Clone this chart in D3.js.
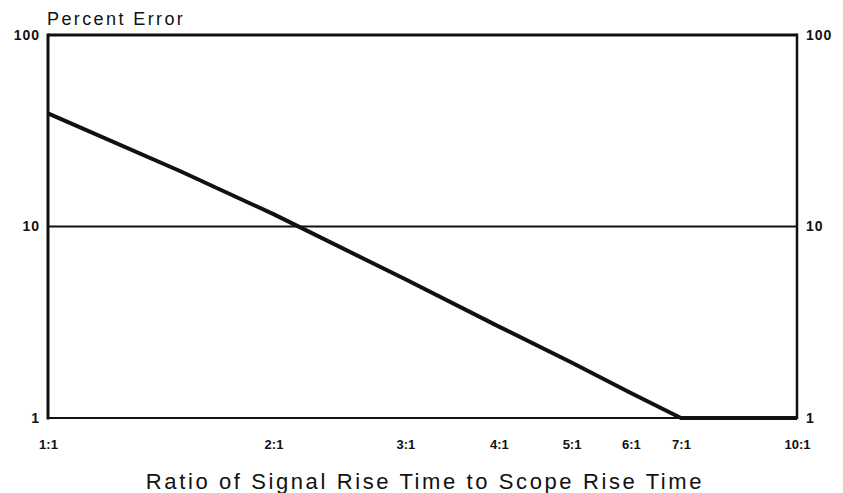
<!DOCTYPE html>
<html>
<head>
<meta charset="utf-8">
<script src="https://cdn.jsdelivr.net/npm/d3@7"></script>
<style>
  html, body { margin: 0; padding: 0; background: #fff; }
  svg { display: block; font-family: "Liberation Sans", Arial, sans-serif; }
</style>
</head>
<body>
<svg id="chart" width="843" height="493"></svg>
<script>
// Data
const ratios = [1, 1.5, 2, 3, 4, 5, 6, 7, 10];
const percentError = [39, 19.5, 11.6, 5.3, 3.0, 1.95, 1.35, 1.0, 1.0];
const xTickValues = [1, 2, 3, 4, 5, 6, 7, 10];
const xTickLabels = ["1:1", "2:1", "3:1", "4:1", "5:1", "6:1", "7:1", "10:1"];
const yTickValues = [1, 10, 100];
const yTickLabels = ["1", "10", "100"];

(function () {
const svg = d3.select("#chart");
const pLeft = 48, pRight = 797, pTop = 35, pBottom = 418;

const x = d3.scaleLog().domain([1, 10]).range([pLeft, pRight]);
const y = d3.scaleLog().domain([1, 100]).range([pBottom, pTop]);

// Frame
const g = svg.append("g");
g.append("line").attr("x1", pLeft).attr("x2", pRight).attr("y1", y(100)).attr("y2", y(100))
  .attr("stroke", "#111").attr("stroke-width", 3);
g.append("line").attr("x1", pLeft).attr("x2", pLeft).attr("y1", y(100) - 1.5).attr("y2", y(1) + 1.5)
  .attr("stroke", "#111").attr("stroke-width", 3);
g.append("line").attr("x1", pRight).attr("x2", pRight).attr("y1", y(100) - 1.5).attr("y2", y(1) + 1)
  .attr("stroke", "#111").attr("stroke-width", 2.5);
g.append("line").attr("x1", pLeft).attr("x2", pRight).attr("y1", y(1)).attr("y2", y(1))
  .attr("stroke", "#111").attr("stroke-width", 2);
// 10% line
g.append("line").attr("x1", pLeft).attr("x2", pRight).attr("y1", y(10)).attr("y2", y(10))
  .attr("stroke", "#111").attr("stroke-width", 2);

// Y axis labels (left and right) via axes
const yAxisL = d3.axisLeft(y).tickValues(yTickValues)
  .tickFormat((d, i) => yTickLabels[i]).tickSize(0).tickPadding(8);
const yAxisR = d3.axisRight(y).tickValues(yTickValues)
  .tickFormat((d, i) => yTickLabels[i]).tickSize(0).tickPadding(9);
const gl = svg.append("g").attr("transform", `translate(${pLeft},0)`).call(yAxisL);
const gr = svg.append("g").attr("transform", `translate(${pRight},0)`).call(yAxisR);
[gl, gr].forEach(a => {
  a.select(".domain").remove();
  a.selectAll("text").attr("font-size", 14).attr("font-weight", "bold")
    .attr("letter-spacing", 1)
    .attr("fill", "#111").attr("font-family", "Liberation Sans, Arial, sans-serif");
});

// X axis labels
const xAxis = d3.axisBottom(x).tickValues(xTickValues)
  .tickFormat((d, i) => xTickLabels[i]).tickSize(0).tickPadding(22);
const gx = svg.append("g").attr("transform", `translate(0,${pBottom})`).call(xAxis);
gx.select(".domain").remove();
gx.selectAll("text").attr("font-size", 13).attr("font-weight", "bold")
  .attr("fill", "#111").attr("font-family", "Liberation Sans, Arial, sans-serif");

// Curve
const pts = ratios.map((r, i) => [r, percentError[i]]);
svg.append("path").datum(pts)
  .attr("d", d3.line().x(d => x(d[0])).y(d => y(d[1])))
  .attr("fill", "none").attr("stroke", "#111").attr("stroke-width", 4)
  .attr("stroke-linejoin", "round");

// Titles
svg.append("text").attr("x", 47).attr("y", 25).attr("font-size", 18)
  .attr("fill", "#111").attr("letter-spacing", 2.4).text("Percent Error");
svg.append("text").attr("x", 425).attr("y", 489).attr("text-anchor", "middle")
  .attr("font-size", 22).attr("fill", "#111").attr("letter-spacing", 2.6)
  .text("Ratio of Signal Rise Time to Scope Rise Time");
})();
</script>
</body>
</html>
